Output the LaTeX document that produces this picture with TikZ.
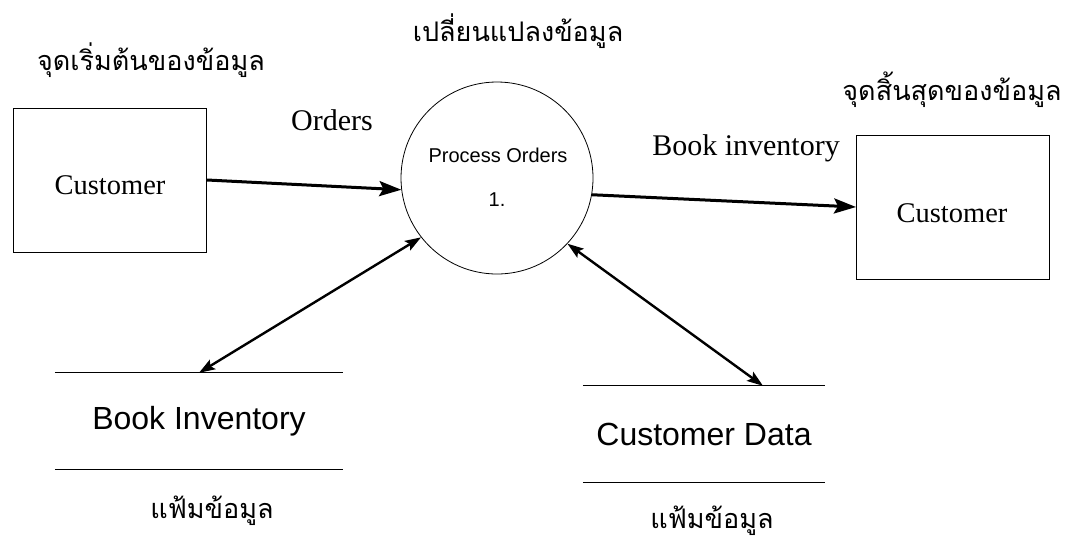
\documentclass[tikz,border=0pt]{standalone}
\usepackage{fontspec}
\setmainfont{Liberation Serif}
\newfontfamily\thaifont[Script=Thai]{Loma}
\newfontfamily\sansf{Liberation Sans}
\usetikzlibrary{arrows.meta,calc}
\begin{document}
\begin{tikzpicture}[x=1pt,y=-1pt,
  thai/.style={font=\thaifont\fontsize{27}{30}\selectfont, inner sep=0pt},
  entity/.style={draw, line width=0.9pt, minimum width=193pt, minimum height=144pt, inner sep=0pt},
  entlbl/.style={font=\fontsize{28.5}{32}\selectfont, inner sep=0pt},
  proc/.style={draw, circle, line width=0.8pt, minimum size=192pt, inner sep=0pt},
  store/.style={minimum height=96pt, inner sep=0pt, font=\sansf\fontsize{32}{36}\selectfont},
  storeline/.style={line width=0.9pt},
  flowlbl/.style={font=\fontsize{30}{34}\selectfont, inner sep=0pt},
  flow/.style={-{Stealth[length=22pt,width=15pt,inset=4pt]}, line width=3pt},
  bif/.style={{Stealth[length=16pt,width=11pt,inset=3pt]}-{Stealth[length=16pt,width=11pt,inset=3pt]}, line width=2.4pt}
]
\useasboundingbox (0,0) rectangle (1086,547);

\node[entity] (src) at (110,180) {};
\node[entlbl] (srclbl) at (110,185) {Customer};
\node[entity] (dst) at (953,207) {};
\node[entlbl] (dstlbl) at (952,213) {Customer};
\node[proc] (po) at (497,178) {};
\node[font=\sansf\fontsize{20}{22}\selectfont] (potitle) at (498,155) {Process Orders};
\node[font=\sansf\fontsize{20}{22}\selectfont] (ponum) at (497,200) {1.};

\node[store, minimum width=288pt] (bi) at (199,421) {Book Inventory};
\node[store, minimum width=242pt] (cd) at (704,434) {Customer Data};

\draw[storeline] (bi.north west) -- (bi.north east);
\draw[storeline] (bi.south west) -- (bi.south east);
\draw[storeline] (cd.north west) -- (cd.north east);
\draw[storeline] (cd.south west) -- (cd.south east);

\node[thai] (t1) at (151,60) {จุดเริ่มต้นของข้อมูล};
\node[thai] (t2) at (518,31) {เปลี่ยนแปลงข้อมูล};
\node[thai] (t3) at (952,90) {จุดสิ้นสุดของข้อมูล};
\node[thai] (t4) at (212,511) {แฟ้มข้อมูล};
\node[thai] (t5) at (712,521) {แฟ้มข้อมูล};

\node[flowlbl] (lorders) at (332,120) {Orders};
\node[flowlbl] (linv) at (746,148) {Book inventory};

\draw[flow] (src.east) -- (po.187);
\draw[flow] (po.350) -- (dst.west);
\draw[bif] (po.218) -- (bi.north);
\draw[bif] (po.317) -- ($(cd.north)+(59,0)$);
\end{tikzpicture}
\end{document}
